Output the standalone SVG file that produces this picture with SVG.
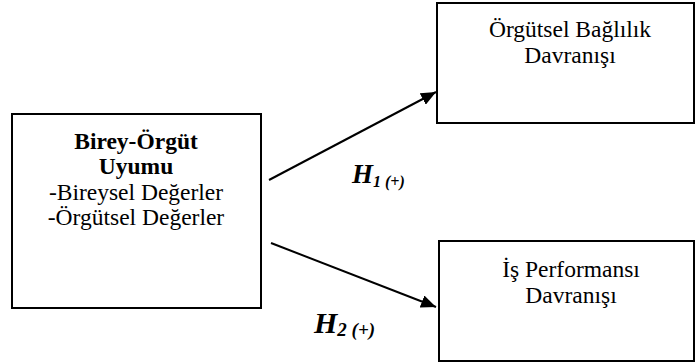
<svg xmlns="http://www.w3.org/2000/svg" width="695" height="362" viewBox="0 0 695 362">
<style>
.box{fill:#fff;stroke:#000;stroke-width:2}
.t{font-family:"Liberation Serif","Times New Roman",serif;font-size:23.5px;fill:#000;text-anchor:middle}
.b{font-weight:bold}
.h{font-family:"Liberation Serif","Times New Roman",serif;font-weight:bold;font-style:italic;fill:#000}
.c{stroke:#000;stroke-width:2;fill:none}
</style>
<defs>
<marker id="ah" viewBox="0 0 15 13" refX="15" refY="6.5" markerWidth="15" markerHeight="13" markerUnits="userSpaceOnUse" orient="auto">
<path d="M0,0 L15,6.5 L0,13 z" fill="#000"/>
</marker>
</defs>
<rect width="695" height="362" fill="#fff"/>
<g id="connectors">
<line class="c" x1="269" y1="180" x2="436" y2="92" marker-end="url(#ah)"/>
<line class="c" x1="271" y1="243" x2="436" y2="307" marker-end="url(#ah)"/>
</g>
<g id="node-birey">
<rect class="box" x="12" y="114" width="249" height="194"/>
<text class="t b" x="136" y="149">Birey-Örgüt</text>
<text class="t b" x="136" y="174">Uyumu</text>
<text class="t" x="136" y="200">-Bireysel Değerler</text>
<text class="t" x="136" y="225">-Örgütsel Değerler</text>
</g>
<g id="node-baglilik">
<rect class="box" x="437" y="3" width="257" height="120"/>
<text class="t" x="570" y="37">Örgütsel Bağlılık</text>
<text class="t" x="570" y="63">Davranışı</text>
</g>
<g id="node-performans">
<rect class="box" x="439" y="241" width="255" height="120"/>
<text class="t" x="571" y="277">İş Performansı</text>
<text class="t" x="571" y="303">Davranışı</text>
</g>
<g id="labels">
<text class="h" x="352" y="183" font-size="27">H<tspan font-size="16" dy="4">1 (+)</tspan></text>
<text class="h" x="314" y="333" font-size="30">H<tspan font-size="19" dy="3">2 (+)</tspan></text>
</g>
</svg>
